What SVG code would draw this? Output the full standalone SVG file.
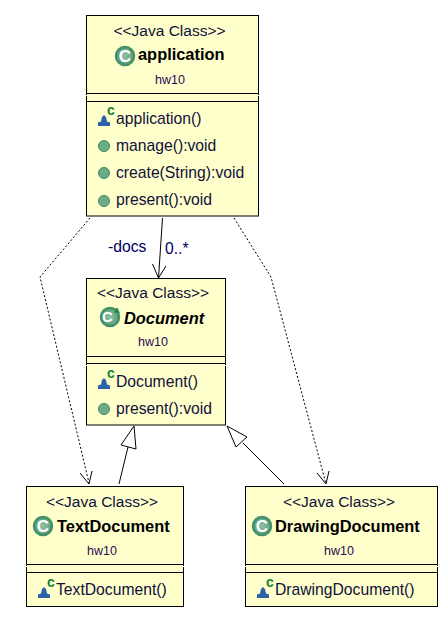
<svg xmlns="http://www.w3.org/2000/svg" width="447" height="619" viewBox="0 0 447 619">
<style>
text{font-family:"Liberation Sans",Arial,sans-serif;font-size:15.700px;fill:#10103a}
.st{text-anchor:middle;font-size:15.500px}
.nm{font-weight:bold;font-size:16.400px;fill:#000}
.pk{text-anchor:middle;font-size:12.500px;fill:#2a0a50}
.box{fill:#ffffcc;stroke:#000;stroke-width:1}
.gap{stroke:#fff;stroke-width:1;fill:none}
.sep{stroke:#000;stroke-width:1;fill:none}
.ic{fill:url(#g);stroke:#41906a;stroke-width:2.500}
.icl{font-weight:bold;font-size:17px;fill:#fff;text-anchor:middle}
.dot{fill:#6cac86;stroke:#3f8a63;stroke-width:1}
.tri{fill:#2c62a8}
.cl{font-weight:bold;font-size:14px;fill:#14843a}
.ln{fill:none;stroke:#000;stroke-width:1}
.dash{fill:none;stroke:#000;stroke-width:1;stroke-dasharray:2 2}
.inh{fill:#fff;stroke:#000;stroke-width:1}
.blue{fill:#000060}
</style>
<defs>
<radialGradient id="g"><stop offset="0" stop-color="#8fc0a3"/><stop offset="1" stop-color="#5d9f7a"/></radialGradient>
<g id="ctor"><path class="tri" d="M0 11 L0 7.500 L3 6.500 L4 2 L6 0 L8 2 L9 6.500 L12 7.500 L12 11 Z"/><text class="cl" x="9" y="0">c</text></g>
<g id="meth"><circle class="dot" cx="0" cy="0" r="5.500"/></g>
</defs>
<rect width="447" height="619" fill="#fff"/>
<g id="connectors">
<path class="ln" d="M162.500 218 L158.500 278"/>
<path class="ln" d="M152.500 264 L158.500 278 L166 266"/>
<path class="dash" d="M90 218 L40 277 L89 483"/>
<path class="ln" d="M80 473 L89 484 L92 471"/>
<path class="dash" d="M234 218 L271 277 L326 484"/>
<path class="ln" d="M317 473 L326 484 L329 471"/>
<path class="ln" d="M119 484 L128 447"/>
<path class="inh" d="M134 426 L121 445 L136 449 Z"/>
<path class="ln" d="M284 484 L243 443"/>
<path class="inh" d="M227 426 L236 447 L247 437 Z"/>
</g>
<text class="blue" x="108" y="252">-docs</text>
<text class="blue" x="165" y="254">0..*</text>
<g id="application">
<rect class="box" x="86.500" y="15.500" width="172" height="200.500"/>
<path class="sep" d="M86.500 93.500 H258.500 M86.500 101.500 H258.500"/><path class="gap" d="M86.500 95 V96 M258.500 95 V96"/>
<text class="st" x="169.500" y="36">&lt;&lt;Java Class&gt;&gt;</text>
<circle class="ic" cx="125" cy="56" r="9"/><text class="icl" x="125" y="62">C</text>
<text class="nm" x="138" y="60">application</text>
<text class="pk" x="170" y="84">hw10</text>
<use href="#ctor" x="98" y="115"/><text x="116" y="124">application()</text>
<use href="#meth" x="104" y="146"/><text x="116" y="151">manage():void</text>
<use href="#meth" x="104" y="173"/><text x="116" y="178">create(String):void</text>
<use href="#meth" x="104" y="201"/><text x="116" y="205">present():void</text>
</g>
<g id="document">
<rect class="box" x="86.500" y="278.500" width="139" height="146.500"/>
<path class="sep" d="M86.500 356.500 H225.500 M86.500 363.500 H225.500"/><path class="gap" d="M86.500 365 V366 M225.500 365 V366"/>
<text class="st" x="153" y="298">&lt;&lt;Java Class&gt;&gt;</text>
<circle class="ic" cx="110" cy="317" r="9"/><text class="icl" style="font-size:15px" x="107.500" y="322">C</text><text x="114" y="313" style="font-size:8px;font-weight:bold;fill:#14843a">A</text>
<text class="nm" x="124" y="324" font-style="italic">Document</text>
<text class="pk" x="153" y="346">hw10</text>
<use href="#ctor" x="98" y="378"/><text x="116" y="387">Document()</text>
<use href="#meth" x="104" y="409"/><text x="116" y="414">present():void</text>
</g>
<g id="textdocument">
<rect class="box" x="26.500" y="486.500" width="157" height="120"/>
<path class="sep" d="M26.500 564.500 H183.500 M26.500 572.500 H183.500"/><path class="gap" d="M26.500 566 V567 M183.500 566 V567"/>
<text class="st" x="102" y="507">&lt;&lt;Java Class&gt;&gt;</text>
<circle class="ic" cx="43" cy="526" r="9"/><text class="icl" x="43" y="532">C</text>
<text class="nm" x="57" y="532">TextDocument</text>
<text class="pk" x="102" y="555">hw10</text>
<use href="#ctor" x="38" y="587"/><text x="56" y="595">TextDocument()</text>
</g>
<g id="drawingdocument">
<rect class="box" x="245.500" y="486.500" width="192" height="120"/>
<path class="sep" d="M245.500 564.500 H437.500 M245.500 572.500 H437.500"/><path class="gap" d="M245.500 566 V567 M437.500 566 V567"/>
<text class="st" x="339" y="507">&lt;&lt;Java Class&gt;&gt;</text>
<circle class="ic" cx="262" cy="526" r="9"/><text class="icl" x="262" y="532">C</text>
<text class="nm" x="275" y="532">DrawingDocument</text>
<text class="pk" x="339" y="555">hw10</text>
<use href="#ctor" x="257" y="587"/><text x="275" y="595">DrawingDocument()</text>
</g>
</svg>
